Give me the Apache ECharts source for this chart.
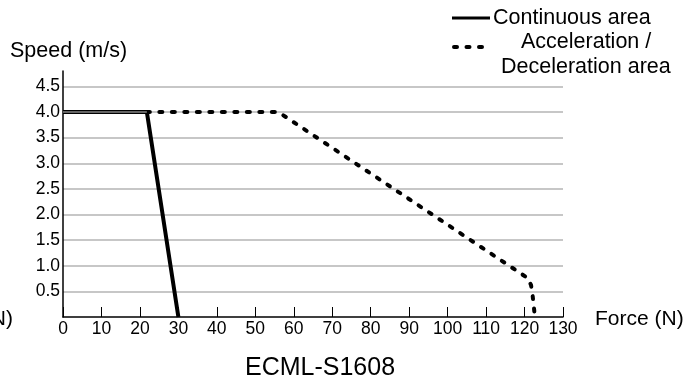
<!DOCTYPE html>
<html>
<head>
<meta charset="utf-8">
<script src="https://cdn.jsdelivr.net/npm/echarts@6/dist/echarts.min.js"></script>
<style>html,body{margin:0;padding:0;background:#fff}#c{width:691px;height:385px}</style>
</head>
<body>
<div id="c"></div>
<script>
// Data
var continuousX = [0, 21.8, 30];
var continuousY = [4.0, 4.0, 0];
var accelX = [21.8, 56, 120.8, 121.7, 122.1, 122.7];
var accelY = [4.0, 4.0, 0.76, 0.62, 0.42, 0];
var xTicks = [0, 10, 20, 30, 40, 50, 60, 70, 80, 90, 100, 110, 120, 130];
var yTicks = [0.5, 1.0, 1.5, 2.0, 2.5, 3.0, 3.5, 4.0, 4.5];
var title = 'ECML-S1608';
var legendNames = ['Continuous area', 'Acceleration /', 'Deceleration area'];

function pairs(xs, ys) { return xs.map(function (x, i) { return [x, ys[i]]; }); }

var FONT = '"Liberation Sans", Arial, sans-serif';
var chart = echarts.init(document.getElementById('c'), null, { renderer: 'canvas' });
var dash = [3, 9.5];

chart.setOption({
  animation: false,
  backgroundColor: '#fff',
  grid: { left: 63, right: 128, top: 71, bottom: 68, containLabel: false },
  xAxis: {
    type: 'value', min: xTicks[0], max: xTicks[xTicks.length - 1], interval: 10,
    axisLine: { show: true, lineStyle: { color: '#000', width: 1.5 } },
    axisTick: { show: true, inside: true, length: 10, lineStyle: { color: '#000', width: 1 } },
    axisLabel: { color: '#000', fontSize: 17.5, fontFamily: FONT, margin: 3 },
    splitLine: { show: false }
  },
  yAxis: {
    type: 'value', min: 0, max: 4.8, interval: 0.5,
    axisLine: { show: true, lineStyle: { color: '#000', width: 1.5 } },
    axisTick: { show: false },
    axisLabel: {
      color: '#000', fontSize: 17.5, fontFamily: FONT, margin: 3,
      formatter: function (v) {
        for (var i = 0; i < yTicks.length; i++) if (Math.abs(yTicks[i] - v) < 1e-6) return v.toFixed(1);
        return '';
      }
    },
    splitLine: { show: true, showMinLine: false, showMaxLine: false, lineStyle: { color: '#b4b4b4', width: 1.5 } }
  },
  series: [
    {
      type: 'line', data: pairs(accelX, accelY), symbol: 'none', z: 3,
      lineStyle: { color: '#000', width: 4, type: dash, cap: 'round', join: 'round' }
    },
    {
      type: 'line', data: pairs(continuousX, continuousY), symbol: 'none', z: 4,
      lineStyle: { color: '#000', width: 4, join: 'miter' }
    },
    {
      type: 'line', data: pairs(continuousX.slice(0, 2), continuousY.slice(0, 2)), symbol: 'none', z: 5,
      lineStyle: { color: '#c8c8c8', width: 1.2 }
    }
  ],
  graphic: [
    { type: 'text', left: 10, top: 40, style: { text: 'Speed (m/s)', font: '21.5px ' + FONT, fill: '#000' } },
    { type: 'text', left: 595, top: 309, style: { text: 'Force (N)', font: '21px ' + FONT, fill: '#000' } },
    { type: 'text', right: 678, top: 309, style: { text: 'Force (N)', font: '21px ' + FONT, fill: '#000' } },
    { type: 'text', left: 245, top: 356, style: { text: title, font: '25px ' + FONT, fill: '#000' } },
    { type: 'line', shape: { x1: 452, y1: 18, x2: 490, y2: 18 }, style: { stroke: '#000', lineWidth: 3 } },
    { type: 'text', left: 493, top: 7, style: { text: legendNames[0], font: '21.5px ' + FONT, fill: '#000' } },
    { type: 'line', shape: { x1: 454, y1: 47, x2: 490, y2: 47 }, style: { stroke: '#000', lineWidth: 4, lineDash: dash, lineCap: 'round' } },
    { type: 'text', left: 521, top: 31, style: { text: legendNames[1], font: '21.5px ' + FONT, fill: '#000' } },
    { type: 'text', left: 501, top: 56, style: { text: legendNames[2], font: '21.5px ' + FONT, fill: '#000' } }
  ]
});
</script>
</body>
</html>
